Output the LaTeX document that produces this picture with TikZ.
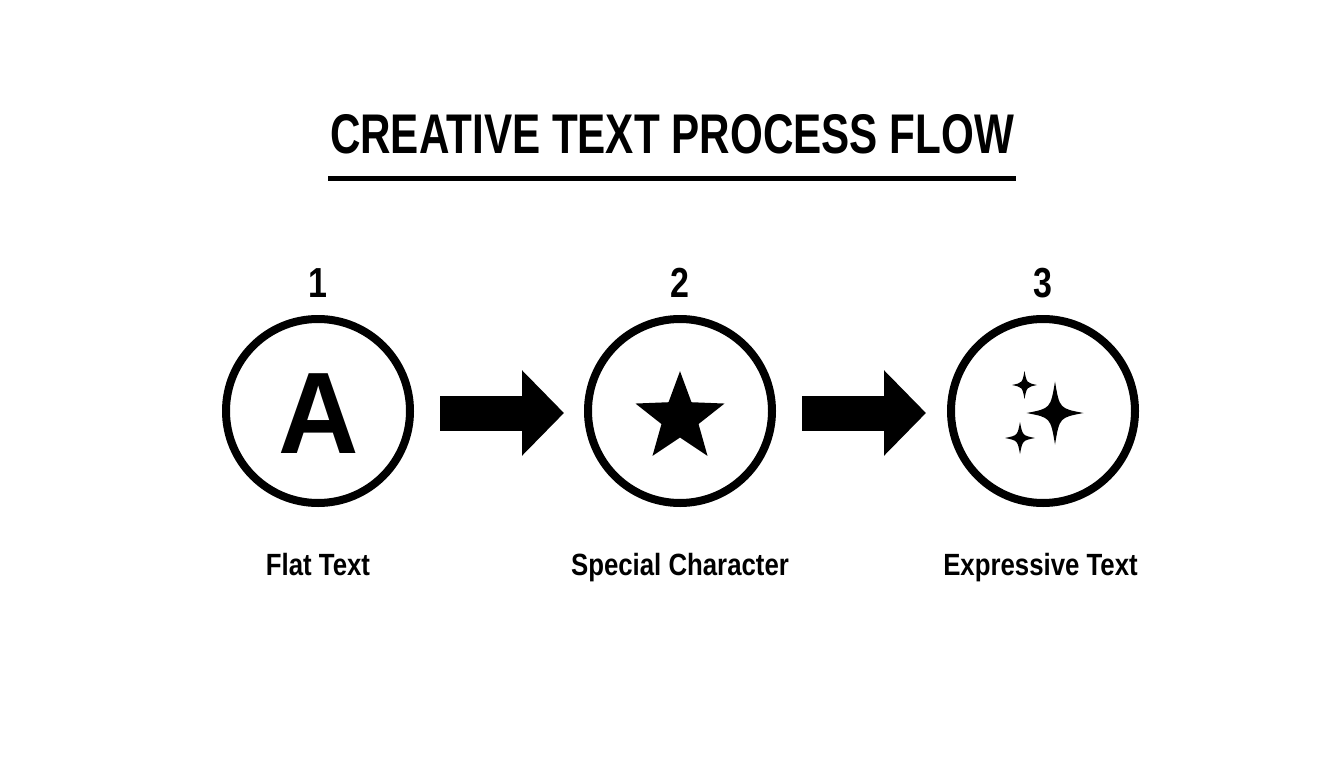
\documentclass[tikz,border=0pt]{standalone}
\usepackage{fontspec}
\usetikzlibrary{arrows.meta}
\newfontfamily\titlefont{Liberation Sans}[FakeStretch=0.755]
\newfontfamily\labelfont{Liberation Sans}[FakeStretch=0.84]
\newfontfamily\numfont{Liberation Sans}[FakeStretch=0.81]
\newfontfamily\bigfont{Liberation Sans}[FakeStretch=0.96]
\begin{document}
\begin{tikzpicture}[x=1pt,y=-1pt,
  stepcircle/.style={circle,draw,line width=8pt,minimum size=184pt,inner sep=0pt,outer sep=0pt},
  numlabel/.style={font=\numfont\bfseries\fontsize{42}{42}\selectfont,inner sep=0pt,anchor=base},
  steplabel/.style={font=\labelfont\bfseries\fontsize{30.7}{31}\selectfont,inner sep=0pt,anchor=base},
  flowarrow/.style={line width=35pt,-{Triangle[length=42pt,width=83pt]}}
]
\useasboundingbox (0,0) rectangle (1344,768);
\fill[white] (0,0) rectangle (1344,768);
% title
\node[font=\titlefont\bfseries\fontsize{55.9}{56}\selectfont,inner sep=0pt,anchor=base] (title) at (672,153) {CREATIVE TEXT PROCESS FLOW};
\draw[line width=5pt] (328,178.5) coordinate (ul1) -- (1016,178.5) coordinate (ul2);
% circles
\node[stepcircle] (c1) at (318,411) {};
\node[stepcircle] (c2) at (680,411) {};
\node[stepcircle] (c3) at (1043,411) {};
% numbers
\node[numlabel] (n1) at (318,297) {1};
\node[numlabel] (n2) at (680,297) {2};
\node[numlabel] (n3) at (1043,297) {3};
% labels
\node[steplabel] (l1) at (318,575) {Flat Text};
\node[steplabel] (l2) at (680,575) {Special Character};
\node[steplabel] (l3) at (1040.5,575) {Expressive Text};
% icon A
\node[font=\bigfont\bfseries\fontsize{116}{116}\selectfont,inner sep=0pt,anchor=base] (iconA) at (318.5,453) {A};
% star
\begin{scope}[shift={(680,418)},y=1pt]
\fill (90:46.8) -- (126:19.5) -- (162:46.8) -- (198:19.5) -- (234:46.8) -- (270:19.5)
      -- (306:46.8) -- (342:19.5) -- (18:46.8) -- (54:19.5) -- cycle;
\end{scope}
% sparkles
\begin{scope}[shift={(1055,413)}]
\fill (0,-31.5) .. controls (4.5,-4.5) .. (28.5,0) .. controls (4.5,4.5) .. (0,31.5)
      .. controls (-4.5,4.5) .. (-28.5,0) .. controls (-4.5,-4.5) .. cycle;
\end{scope}
\begin{scope}[shift={(1024.5,385)}]
\fill (0,-14) .. controls (2.2,-2.2) .. (12.5,0) .. controls (2.2,2.2) .. (0,14)
      .. controls (-2.2,2.2) .. (-12.5,0) .. controls (-2.2,-2.2) .. cycle;
\end{scope}
\begin{scope}[shift={(1020,438)}]
\fill (0,-16) .. controls (2.5,-2.5) .. (15,0) .. controls (2.5,2.5) .. (0,16)
      .. controls (-2.5,2.5) .. (-15,0) .. controls (-2.5,-2.5) .. cycle;
\end{scope}
% arrows
\draw[flowarrow] ([xshift=30pt,yshift=-2pt]c1.east) -- ([xshift=-24pt,yshift=-2pt]c2.west);
\draw[flowarrow] ([xshift=30pt,yshift=-2pt]c2.east) -- ([xshift=-25pt,yshift=-2pt]c3.west);
\end{tikzpicture}
\end{document}
